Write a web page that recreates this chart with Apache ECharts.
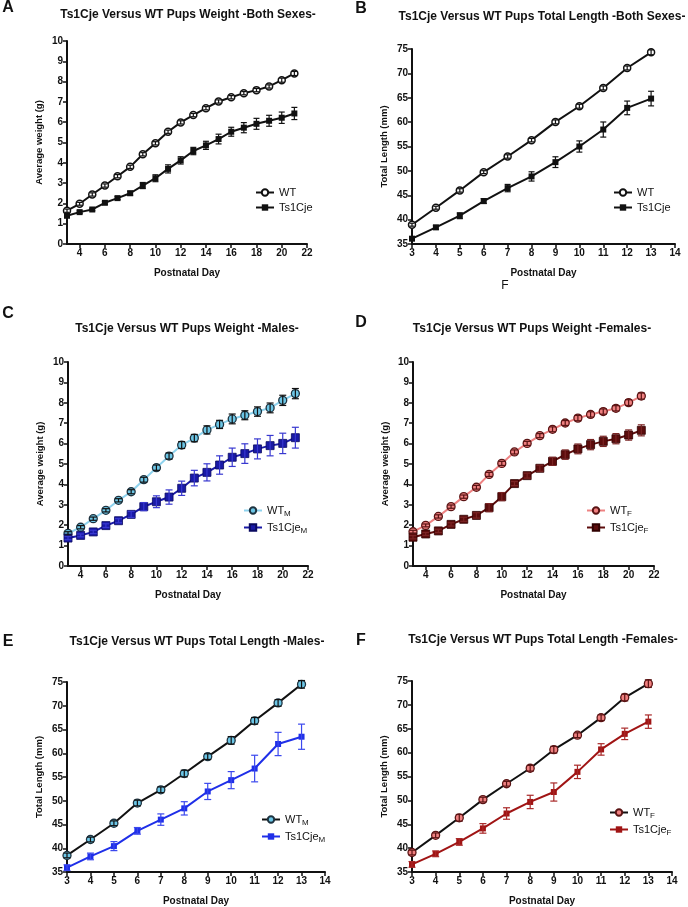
<!DOCTYPE html>
<html>
<head>
<meta charset="utf-8">
<script src="https://cdn.jsdelivr.net/npm/echarts@6/dist/echarts.min.js"></script>
<style>
html,body{margin:0;padding:0;background:#fff;}
#c{width:688px;height:907px;}
</style>
</head>
<body>
<div id="c"></div>
<script>
// ---------- data ----------
const daysW = [3,4,5,6,7,8,9,10,11,12,13,14,15,16,17,18,19,20,21];
const daysL = [3,4,5,6,7,8,9,10,11,12,13];
const weightTicks = [4,6,8,10,12,14,16,18,20,22];

// A: weight, both sexes
const wtA    = [1.64,1.98,2.44,2.88,3.34,3.80,4.42,4.96,5.53,5.99,6.35,6.69,7.02,7.23,7.43,7.58,7.76,8.07,8.40];
const wtAerr = [0.08,0.07,0.08,0.08,0.08,0.08,0.08,0.08,0.08,0.08,0.08,0.08,0.08,0.08,0.08,0.08,0.08,0.10,0.10];
const tsA    = [1.39,1.57,1.70,2.03,2.26,2.50,2.88,3.24,3.70,4.12,4.58,4.86,5.17,5.53,5.73,5.92,6.07,6.22,6.43];
const tsAerr = [0.08,0.06,0.06,0.07,0.07,0.10,0.15,0.17,0.20,0.18,0.18,0.20,0.24,0.22,0.25,0.27,0.27,0.28,0.30];
// B: length, both sexes
const wtB    = [38.96,42.44,45.99,49.74,52.95,56.30,60.05,63.26,67.01,71.11,74.32];
const wtBerr = [0.3,0.3,0.35,0.3,0.35,0.35,0.4,0.4,0.4,0.4,0.5];
const tsB    = [36.09,38.41,40.80,43.81,46.47,48.86,51.79,55.00,58.48,62.92,64.83];
const tsBerr = [0.3,0.4,0.6,0.5,0.75,0.95,1.1,1.15,1.55,1.4,1.5];
// C: weight, males
const wtC    = [1.60,1.90,2.32,2.73,3.22,3.64,4.23,4.82,5.39,5.93,6.27,6.67,6.94,7.21,7.39,7.57,7.75,8.12,8.45];
const wtCerr = [0.08,0.08,0.08,0.08,0.08,0.10,0.12,0.13,0.15,0.17,0.18,0.20,0.20,0.24,0.22,0.23,0.24,0.25,0.25];
const tsC    = [1.37,1.50,1.67,1.98,2.22,2.53,2.91,3.15,3.38,3.81,4.31,4.59,4.95,5.33,5.51,5.74,5.90,6.01,6.29];
const tsCerr = [0.08,0.07,0.08,0.09,0.10,0.15,0.20,0.29,0.35,0.35,0.38,0.42,0.45,0.45,0.48,0.49,0.50,0.50,0.51];
// D: weight, females
const wtD    = [1.68,1.99,2.43,2.91,3.40,3.86,4.49,5.03,5.59,6.01,6.39,6.70,7.01,7.25,7.43,7.57,7.73,8.01,8.33];
const wtDerr = [0.07,0.07,0.08,0.08,0.08,0.09,0.10,0.10,0.10,0.10,0.10,0.12,0.12,0.13,0.13,0.13,0.13,0.14,0.15];
const tsD    = [1.41,1.57,1.72,2.04,2.29,2.48,2.86,3.40,4.04,4.43,4.79,5.13,5.46,5.74,5.95,6.11,6.24,6.42,6.65];
const tsDerr = [0.08,0.07,0.08,0.08,0.10,0.13,0.20,0.20,0.10,0.12,0.15,0.20,0.23,0.24,0.25,0.25,0.25,0.25,0.27];
// E: length, males
const wtE    = [38.49,41.84,45.26,49.52,52.31,55.73,59.29,62.71,66.83,70.60,74.51];
const wtEerr = [0.5,0.5,0.5,0.6,0.6,0.7,0.6,0.8,0.7,0.7,0.8];
const tsE    = [35.91,38.28,40.45,43.66,46.03,48.40,51.96,54.34,56.78,61.95,63.48];
const tsEerr = [0.6,0.7,0.95,0.7,1.2,1.4,1.7,1.8,2.8,2.45,2.65];
// F: length, females
const wtF    = [39.08,42.68,46.35,50.16,53.48,56.73,60.61,63.65,67.32,71.54,74.45];
const wtFerr = [0.5,0.5,0.7,0.5,0.5,0.6,0.7,0.5,0.6,0.7,0.8];
const tsF    = [36.59,38.81,41.30,44.13,47.25,49.67,51.75,55.97,60.67,63.93,66.49];
const tsFerr = [0.6,0.6,0.7,1.0,1.2,1.4,1.9,1.4,1.2,1.2,1.4];

const titles = [
  'Ts1Cje Versus WT Pups Weight -Both Sexes-',
  'Ts1Cje Versus WT Pups Total Length -Both Sexes-',
  'Ts1Cje Versus WT Pups Weight -Males-',
  'Ts1Cje Versus WT Pups Weight -Females-',
  'Ts1Cje Versus WT Pups Total Length -Males-',
  'Ts1Cje Versus WT Pups Total Length -Females-'
];
const letters = ['A','B','C','D','E','F'];

// ---------- layout ----------
const FONT = '"Liberation Sans", Arial, sans-serif';
const grids = [
  {left:67,  top:41,  width:240, height:203},
  {left:412, top:49,  width:263, height:195},
  {left:68,  top:362, width:240, height:204},
  {left:413, top:362, width:241, height:204},
  {left:67,  top:682, width:258, height:191},
  {left:412, top:681, width:260, height:192}
];
const titlePos = [[188,15],[542,17],[187,329],[532,329],[197,642],[543,640]];
const letterPos = [[8,8],[361,9],[8,314],[361,323],[8,642],[361,641]];
const legendPos = [[255,187],[613,187],[243,505],[586,505],[261,814],[609,807]];

const nameStyle = {fontFamily:FONT, fontWeight:'bold', fontSize:10, color:'#111'};
const yNameStyle = {fontFamily:FONT, fontWeight:'bold', fontSize:9.5, color:'#111'};
const lblStyle = {fontFamily:FONT, fontWeight:'bold', fontSize:10, color:'#111', margin:4};
const lineSt = {show:true, onZero:false, lineStyle:{color:'#111', width:2}};
const tickSt = {show:true, length:4, lineStyle:{color:'#111', width:1.5}};

function xAxisW(i){
  return {gridIndex:i, type:'value', min:3, max:22,
    name:'Postnatal Day', nameLocation:'middle', nameGap:24, nameTextStyle:nameStyle,
    axisLine:lineSt,
    axisTick:Object.assign({customValues:weightTicks}, tickSt),
    axisLabel:Object.assign({customValues:weightTicks}, lblStyle),
    splitLine:{show:false}};
}
function xAxisL(i){
  return {gridIndex:i, type:'value', min:3, max:14, interval:1,
    name:'Postnatal Day', nameLocation:'middle', nameGap:24, nameTextStyle:nameStyle,
    axisLine:lineSt, axisTick:tickSt, axisLabel:lblStyle, splitLine:{show:false}};
}
function yAxisW(i){
  return {gridIndex:i, type:'value', min:0, max:10, interval:1,
    name:'Average weight (g)', nameLocation:'middle', nameGap:23, nameTextStyle:yNameStyle,
    axisLine:lineSt, axisTick:tickSt, axisLabel:lblStyle, splitLine:{show:false}};
}
function yAxisL(i){
  return {gridIndex:i, type:'value', min:35, max:75, interval:5,
    name:'Total Length (mm)', nameLocation:'middle', nameGap:23, nameTextStyle:yNameStyle,
    axisLine:lineSt, axisTick:tickSt, axisLabel:lblStyle, splitLine:{show:false}};
}

function pairs(xs, ys){ return xs.map((x,k)=>[x, ys[k]]); }
function errData(xs, ys, es){ return xs.map((x,k)=>[x, ys[k]-es[k], ys[k]+es[k]]); }

function lineSeries(i, name, xs, ys, o){
  return {type:'line', name:name, xAxisIndex:i, yAxisIndex:i, data:pairs(xs, ys),
    symbol:o.symbol, symbolSize:o.size, z:3,
    lineStyle:{color:o.line, width:2},
    itemStyle:{color:o.fill, borderColor:o.border, borderWidth:o.bw},
    emphasis:{disabled:true}};
}
function errSeries(i, xs, ys, es, color, cap){
  return {type:'custom', xAxisIndex:i, yAxisIndex:i, z:5, silent:true,
    data:errData(xs, ys, es), encode:{x:0, y:[1,2]},
    renderItem:function(params, api){
      const x = api.value(0);
      const p1 = api.coord([x, api.value(1)]);
      const p2 = api.coord([x, api.value(2)]);
      const st = {stroke:color, lineWidth:1.2};
      return {type:'group', children:[
        {type:'line', shape:{x1:p1[0], y1:p1[1], x2:p2[0], y2:p2[1]}, style:st},
        {type:'line', shape:{x1:p1[0]-cap, y1:p1[1], x2:p1[0]+cap, y2:p1[1]}, style:st},
        {type:'line', shape:{x1:p2[0]-cap, y1:p2[1], x2:p2[0]+cap, y2:p2[1]}, style:st}
      ]};
    }};
}

const BLACK = '#111';
const LBLUE_LINE = '#8fd3ee', LBLUE = '#6cc6e6', BORDER_DARK = '#1e3340';
const DBLUE = '#1a1aa6', DBLUE_ERR = '#3838d0';
const BLUE_E = '#1f2fe8';
const PINK_LINE = '#ee8282', PINK = '#f08080', PINK_BORDER = '#5a1414';
const MAROON = '#5c0c0c', MAROON_ERR = '#7a2424';
const RED_F = '#a01414';

const series = [
  // A
  lineSeries(0,'A_WT',daysW,wtA,{symbol:'circle',size:7,line:BLACK,fill:'#fff',border:BLACK,bw:1.5}),
  lineSeries(0,'A_TS',daysW,tsA,{symbol:'rect',size:6,line:BLACK,fill:BLACK,border:BLACK,bw:0}),
  errSeries(0,daysW,wtA,wtAerr,BLACK,2.5),
  errSeries(0,daysW,tsA,tsAerr,BLACK,3),
  // B
  lineSeries(1,'B_WT',daysL,wtB,{symbol:'circle',size:7,line:BLACK,fill:'#fff',border:BLACK,bw:1.5}),
  lineSeries(1,'B_TS',daysL,tsB,{symbol:'rect',size:6,line:BLACK,fill:BLACK,border:BLACK,bw:0}),
  errSeries(1,daysL,wtB,wtBerr,BLACK,2.5),
  errSeries(1,daysL,tsB,tsBerr,BLACK,3),
  // C
  lineSeries(2,'C_WT',daysW,wtC,{symbol:'circle',size:8,line:LBLUE_LINE,fill:LBLUE,border:BORDER_DARK,bw:1.3}),
  lineSeries(2,'C_TS',daysW,tsC,{symbol:'rect',size:8,line:DBLUE,fill:DBLUE,border:'#0a0a60',bw:0.8}),
  errSeries(2,daysW,wtC,wtCerr,BLACK,3.5),
  errSeries(2,daysW,tsC,tsCerr,DBLUE_ERR,3.5),
  // D
  lineSeries(3,'D_WT',daysW,wtD,{symbol:'circle',size:8,line:PINK_LINE,fill:PINK,border:PINK_BORDER,bw:1.3}),
  lineSeries(3,'D_TS',daysW,tsD,{symbol:'rect',size:8,line:MAROON,fill:MAROON,border:'#300000',bw:0.8}),
  errSeries(3,daysW,wtD,wtDerr,PINK_BORDER,3.5),
  errSeries(3,daysW,tsD,tsDerr,MAROON_ERR,3.5),
  // E
  lineSeries(4,'E_WT',daysL,wtE,{symbol:'circle',size:8,line:BLACK,fill:LBLUE,border:BORDER_DARK,bw:1.3}),
  lineSeries(4,'E_TS',daysL,tsE,{symbol:'rect',size:6,line:BLUE_E,fill:BLUE_E,border:BLUE_E,bw:0}),
  errSeries(4,daysL,wtE,wtEerr,BLACK,3.5),
  errSeries(4,daysL,tsE,tsEerr,'#3b48ee',3.5),
  // F
  lineSeries(5,'F_WT',daysL,wtF,{symbol:'circle',size:8,line:BLACK,fill:PINK,border:PINK_BORDER,bw:1.3}),
  lineSeries(5,'F_TS',daysL,tsF,{symbol:'rect',size:6,line:RED_F,fill:RED_F,border:RED_F,bw:0}),
  errSeries(5,daysL,wtF,wtFerr,PINK_BORDER,3.5),
  errSeries(5,daysL,tsF,tsFerr,'#a82828',3.5)
];

const legendLabels = {
  A_WT:'{a|WT}', A_TS:'{a|Ts1Cje}', B_WT:'{a|WT}', B_TS:'{a|Ts1Cje}',
  C_WT:'{a|WT}{s|M}', C_TS:'{a|Ts1Cje}{s|M}', D_WT:'{a|WT}{s|F}', D_TS:'{a|Ts1Cje}{s|F}',
  E_WT:'{a|WT}{s|M}', E_TS:'{a|Ts1Cje}{s|M}', F_WT:'{a|WT}{s|F}', F_TS:'{a|Ts1Cje}{s|F}'
};
const legends = letters.map((L,i)=>({
  data:[L+'_WT', L+'_TS'], orient:'vertical', left:legendPos[i][0], top:legendPos[i][1],
  padding:0, itemWidth:18, itemHeight:8, itemGap:4, selectedMode:false,
  formatter:function(n){ return legendLabels[n]; },
  textStyle:{fontFamily:FONT, fontSize:11, color:'#111',
    rich:{a:{fontFamily:FONT, fontSize:11, color:'#111'},
          s:{fontFamily:FONT, fontSize:8, color:'#111', padding:[7,0,0,0]}}}
}));

const graphics = [];
titles.forEach((t,i)=>{
  graphics.push({type:'text', x:titlePos[i][0], y:titlePos[i][1],
    style:{text:t, font:'bold 12px ' + FONT, fill:'#111', textAlign:'center', textVerticalAlign:'middle'}});
  graphics.push({type:'text', x:letterPos[i][0], y:letterPos[i][1],
    style:{text:letters[i], font:'bold 16px ' + FONT, fill:'#111', textAlign:'center', textVerticalAlign:'middle'}});
});
graphics.push({type:'text', x:505, y:286,
  style:{text:'F', font:'12px ' + FONT, fill:'#111', textAlign:'center', textVerticalAlign:'middle'}});

const chart = echarts.init(document.getElementById('c'), null, {renderer:'canvas'});
chart.setOption({
  animation:false,
  backgroundColor:'#fff',
  grid:grids,
  xAxis:[xAxisW(0), xAxisL(1), xAxisW(2), xAxisW(3), xAxisL(4), xAxisL(5)],
  yAxis:[yAxisW(0), yAxisL(1), yAxisW(2), yAxisW(3), yAxisL(4), yAxisL(5)],
  legend:legends,
  series:series,
  graphic:graphics
});
</script>
</body>
</html>
